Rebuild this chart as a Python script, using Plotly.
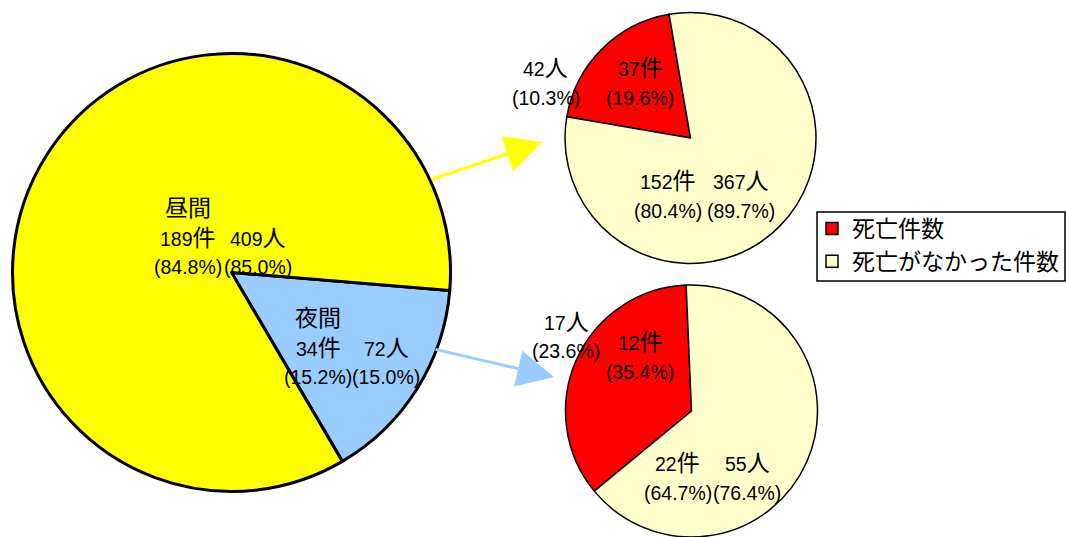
import plotly.graph_objects as go

# 時間帯別の件数・人数
period_labels = ["夜間", "昼間"]
period_cases = [34, 189]
period_case_share = ["15.2%", "84.8%"]
period_people = [72, 409]
period_people_share = ["15.0%", "85.0%"]
period_colors = ["#99CCFF", "#FFFF00"]

# 死亡の有無による内訳
outcome_labels = ["死亡件数", "死亡がなかった件数"]
outcome_colors = ["#FF0000", "#FFFFCC"]

day_cases = [37, 152]
day_case_share = ["19.6%", "80.4%"]
day_people = [42, 367]
day_people_share = ["10.3%", "89.7%"]

night_cases = [12, 22]
night_case_share = ["35.4%", "64.7%"]
night_people = [17, 55]
night_people_share = ["23.6%", "76.4%"]

W, H = 1066, 537
FONT = "Liberation Sans, Arial, Noto Sans CJK JP"
CJK = "<span style='font-size:23px'>{}</span>"


def px(x):
    return x / W


def py(y):
    return 1 - y / H


def domain(cx, cy, r):
    return dict(x=[px(cx - r), px(cx + r)], y=[py(cy + r), py(cy - r)])


fig = go.Figure()

fig.add_trace(go.Pie(
    labels=period_labels, values=period_cases, sort=False,
    direction="clockwise", rotation=94.7,
    marker=dict(colors=period_colors, line=dict(color="black", width=3)),
    textinfo="none", hoverinfo="label+value", showlegend=False,
    domain=domain(231.5, 272.5, 219),
))

fig.add_trace(go.Pie(
    labels=outcome_labels, values=day_cases, sort=False,
    direction="clockwise", rotation=279.7,
    marker=dict(colors=outcome_colors, line=dict(color="black", width=1.5)),
    textinfo="none", hoverinfo="label+value",
    domain=domain(690.5, 138, 125.5),
))

fig.add_trace(go.Pie(
    labels=outcome_labels, values=night_cases, sort=False,
    direction="clockwise", rotation=230.5,
    marker=dict(colors=outcome_colors, line=dict(color="black", width=1.5)),
    textinfo="none", hoverinfo="label+value",
    domain=domain(691.5, 411, 126),
))


def column(x, y0, lines, step=29.5):
    """One annotation per line, stacked downward from y0 (pixels)."""
    out = []
    for i, text in enumerate(lines):
        out.append(dict(
            x=px(x), y=py(y0 + i * step), xref="paper", yref="paper",
            text=text, showarrow=False, xanchor="center", yanchor="middle",
            font=dict(family=FONT, size=19.5, color="black"),
        ))
    return out


def cases_lines(n, share, head=None):
    lines = [f"{n}" + CJK.format("件"), f"({share})"]
    if head:
        lines.insert(0, CJK.format(head))
    return lines


def people_lines(n, share):
    return [f"{n}" + CJK.format("人"), f"({share})"]


annotations = []
# 昼間
annotations += column(187.5, 208, cases_lines(period_cases[1], period_case_share[1], period_labels[1]))
annotations += column(257.5, 237.5, people_lines(period_people[1], period_people_share[1]))
# 夜間
annotations += column(318, 318, cases_lines(period_cases[0], period_case_share[0], period_labels[0]))
annotations += column(386, 347.5, people_lines(period_people[0], period_people_share[0]))
# 昼間の内訳
annotations += column(545.5, 68, people_lines(day_people[0], day_people_share[0]))
annotations += column(640, 68, cases_lines(day_cases[0], day_case_share[0]))
annotations += column(668, 181, cases_lines(day_cases[1], day_case_share[1]))
annotations += column(741, 181, people_lines(day_people[1], day_people_share[1]))
# 夜間の内訳
annotations += column(566, 322, people_lines(night_people[0], night_people_share[0]), step=28.5)
annotations += column(640, 342, cases_lines(night_cases[0], night_case_share[0]))
annotations += column(677.5, 463, cases_lines(night_cases[1], night_case_share[1]))
annotations += column(747, 463, people_lines(night_people[1], night_people_share[1]))


def arrow(tail, tip, color, size=2.45, width=3):
    return dict(
        x=px(tip[0]), y=py(tip[1]), xref="paper", yref="paper", text="",
        showarrow=True, axref="pixel", ayref="pixel",
        ax=tail[0] - tip[0], ay=tail[1] - tip[1],
        arrowhead=2, arrowsize=size, arrowwidth=width, arrowcolor=color,
        standoff=0, startstandoff=0,
    )


annotations.append(arrow((430, 180), (542, 142), period_colors[1]))
annotations.append(arrow((434, 349), (554, 377), period_colors[0]))

# 凡例の枠
shapes = [dict(
    type="rect", xref="paper", yref="paper",
    x0=px(817), x1=px(1065), y0=py(281), y1=py(212),
    line=dict(color="black", width=1.5), fillcolor="white", layer="below",
)]

fig.update_layout(
    width=W, height=H,
    margin=dict(l=0, r=0, t=0, b=0),
    paper_bgcolor="white", plot_bgcolor="white",
    annotations=annotations,
    shapes=shapes,
    legend=dict(
        x=px(812), y=py(207), xanchor="left", yanchor="top",
        bgcolor="rgba(0,0,0,0)", borderwidth=0,
        font=dict(family="Noto Sans CJK JP", size=23, color="black"),
        traceorder="normal",
    ),
)

fig.write_html("out.html")
